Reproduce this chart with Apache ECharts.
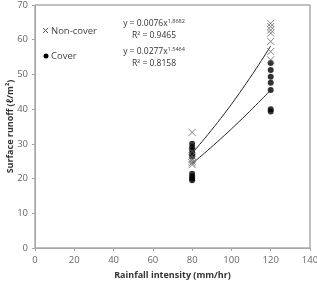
<!DOCTYPE html>
<html><head><meta charset="utf-8">
<script src="https://cdn.jsdelivr.net/npm/echarts@6/dist/echarts.min.js"></script>
<style>html,body{margin:0;padding:0;background:#fff}#c{width:317px;height:281px}</style>
</head><body><div id="c"></div>
<script>
const xTicks = [0, 20, 40, 60, 80, 100, 120, 140];
const yTicks = [0, 10, 20, 30, 40, 50, 60, 70];
const nonCover80 = [33.3, 27.8, 26.5, 25.6, 25.0, 24.5, 24.0];
const nonCover120 = [64.7, 63.8, 62.8, 61.9, 59.5, 56.6, 54.2];
const cover80 = [30.0, 29.0, 28.2, 27.2, 26.4, 21.4, 20.6, 20.0, 19.5];
const cover120 = [53.3, 51.3, 49.3, 47.6, 45.5, 40.0, 39.3];
const trendX = [80, 100, 120];
const nonCoverTrend = [27.3, 41.4, 58.2];
const coverTrend = [24.3, 34.3, 45.5];

const pts = (x, arr) => arr.map(v => [x, v]);
const chart = echarts.init(document.getElementById('c'));
const axisCol = '#a6a6a6';
const labCol = '#666';
const fontF = '"Open Sans", "DejaVu Sans", sans-serif';
const richEq = {
  a: {fontSize: 8.5, fill: '#333', fontFamily: fontF},
  s: {fontSize: 5.5, fill: '#333', fontFamily: fontF, verticalAlign: 'top', padding: [0, 0, 5, 0]}
};
function eqText(x, y, txt) {
  return {type: 'text', x: x, y: y, style: {text: txt, align: 'center', verticalAlign: 'middle', fontFamily: fontF, rich: richEq}};
}
chart.setOption({
  animation: false,
  grid: {left: 35, right: 7, top: 5, bottom: 33, show: true, borderColor: '#808080', borderWidth: 1,
         containLabel: false, outerBoundsMode: 'none'},
  xAxis: {
    type: 'value', min: xTicks[0], max: xTicks[xTicks.length - 1], interval: 20,
    name: 'Rainfall intensity (mm/hr)', nameLocation: 'middle', nameGap: 23, nameMoveOverlap: false,
    nameTextStyle: {fontFamily: fontF, fontWeight: 'bold', fontSize: 9, color: '#333'},
    axisLine: {lineStyle: {color: axisCol}}, axisTick: {show: true, length: 3, lineStyle: {color: axisCol}},
    splitLine: {show: false},
    axisLabel: {fontFamily: fontF, fontSize: 9.5, color: labCol, margin: 7}
  },
  yAxis: {
    type: 'value', min: yTicks[0], max: yTicks[yTicks.length - 1], interval: 10,
    name: 'Surface runoff (ℓ/m²)', nameLocation: 'middle', nameGap: 20, nameRotate: 90, nameMoveOverlap: false,
    nameTextStyle: {fontFamily: fontF, fontWeight: 'bold', fontSize: 9, color: '#333'},
    axisLine: {show: true, lineStyle: {color: axisCol}}, axisTick: {show: true, length: 3, lineStyle: {color: axisCol}},
    splitLine: {show: false},
    axisLabel: {fontFamily: fontF, fontSize: 9.5, color: labCol, margin: 7}
  },
  series: [
    {type: 'line', data: trendX.map((x, i) => [x, nonCoverTrend[i]]), smooth: true, symbol: 'none',
     lineStyle: {color: '#222', width: 1}, z: 3},
    {type: 'line', data: trendX.map((x, i) => [x, coverTrend[i]]), smooth: true, symbol: 'none',
     lineStyle: {color: '#222', width: 1}, z: 3},
    {type: 'scatter', data: pts(80, cover80).concat(pts(120, cover120)), symbol: 'circle', symbolSize: 6,
     itemStyle: {color: '#000'}, z: 2},
    {type: 'scatter', data: pts(80, nonCover80).concat(pts(120, nonCover120)),
     symbol: 'path://M0,0L10,10M10,0L0,10', symbolSize: 7,
     itemStyle: {color: 'rgba(0,0,0,0)', borderColor: '#666', borderWidth: 1}, z: 4}
  ],
  graphic: [
    {type: 'polyline', shape: {points: [[43, 28], [48, 33]]}, style: {stroke: '#555', lineWidth: 1}},
    {type: 'polyline', shape: {points: [[48, 28], [43, 33]]}, style: {stroke: '#555', lineWidth: 1}},
    {type: 'text', x: 51, y: 31, style: {text: 'Non-cover', verticalAlign: 'middle', fontFamily: fontF, fontSize: 9.5, fill: '#444'}},
    {type: 'circle', shape: {cx: 46, cy: 56, r: 2.5}, style: {fill: '#000'}},
    {type: 'text', x: 51, y: 56, style: {text: 'Cover', verticalAlign: 'middle', fontFamily: fontF, fontSize: 9.5, fill: '#444'}},
    eqText(154, 24, '{a|y = 0.0076x}{s|1.8682}'),
    eqText(154, 36, '{a|R² = 0.9465}'),
    eqText(154, 52, '{a|y = 0.0277x}{s|1.5464}'),
    eqText(154, 64, '{a|R² = 0.8158}')
  ]
});
</script>
</body></html>
